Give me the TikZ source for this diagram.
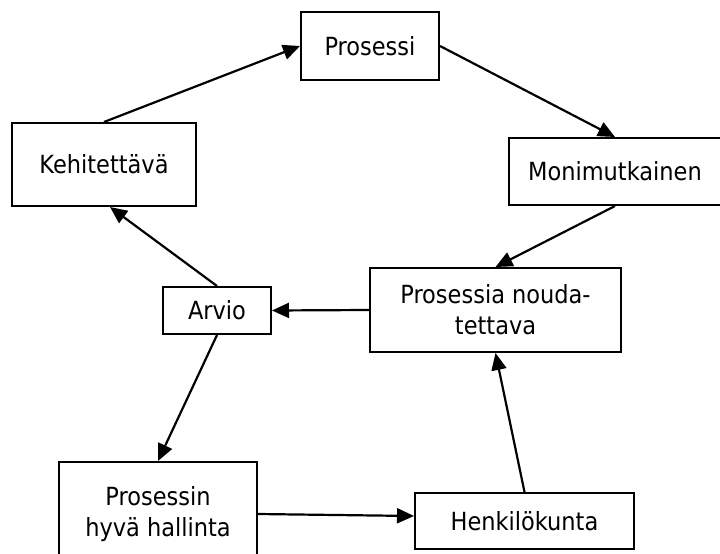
\documentclass[tikz,border=0pt]{standalone}
\usepackage{fontspec}
\setmainfont{DejaVu Sans Condensed}
\usepackage{tikz}
\usetikzlibrary{arrows.meta}

\begin{document}
\begin{tikzpicture}[
        x=1pt, y=-1pt,
        box/.style={rectangle, draw=black, line width=2pt, align=center, font=\fontsize{25}{31}\selectfont, inner sep=0pt},
        link/.style={-{Triangle[length=17pt, width=15pt]}, line width=2.2pt}
    ]
    \useasboundingbox (0,0) rectangle (720,554);

    \node[box, minimum width=138pt, minimum height=68pt] (prosessi) at (370,46) {Prosessi};
    \node[box, minimum width=184pt, minimum height=83pt] (kehitettava) at (104,164.5) {Kehitettävä};
    \node[box, minimum width=212pt, minimum height=67pt] (monimutkainen) at (615,171.5) {Monimutkainen};
    \node[box, minimum width=251pt, minimum height=84pt] (noudatettava) at (495.5,310) {Prosessia nouda-\\tettava};
    \node[box, minimum width=108pt, minimum height=47pt] (arvio) at (217,310.5) {Arvio};
    \node[box, minimum width=198pt, minimum height=104pt] (hallinta) at (158,514) {Prosessin\\hyvä hallinta};
    \node[box, minimum width=219pt, minimum height=56pt] (henkilokunta) at (524.5,521) {Henkilökunta};

    \draw[link] (kehitettava.north) to (prosessi.west);
    \draw[link] (prosessi.east) to (monimutkainen.north);
    \draw[link] (monimutkainen.south) to (noudatettava.north);
    \draw[link] (noudatettava.west) to (arvio.east);
    \draw[link] (arvio.north) to ([xshift=6pt]kehitettava.south);
    \draw[link] (arvio.south) to (hallinta.north);
    \draw[link] (hallinta.east) to ([yshift=5pt]henkilokunta.west);
    \draw[link] (henkilokunta.north) to (noudatettava.south);
\end{tikzpicture}
\end{document}
